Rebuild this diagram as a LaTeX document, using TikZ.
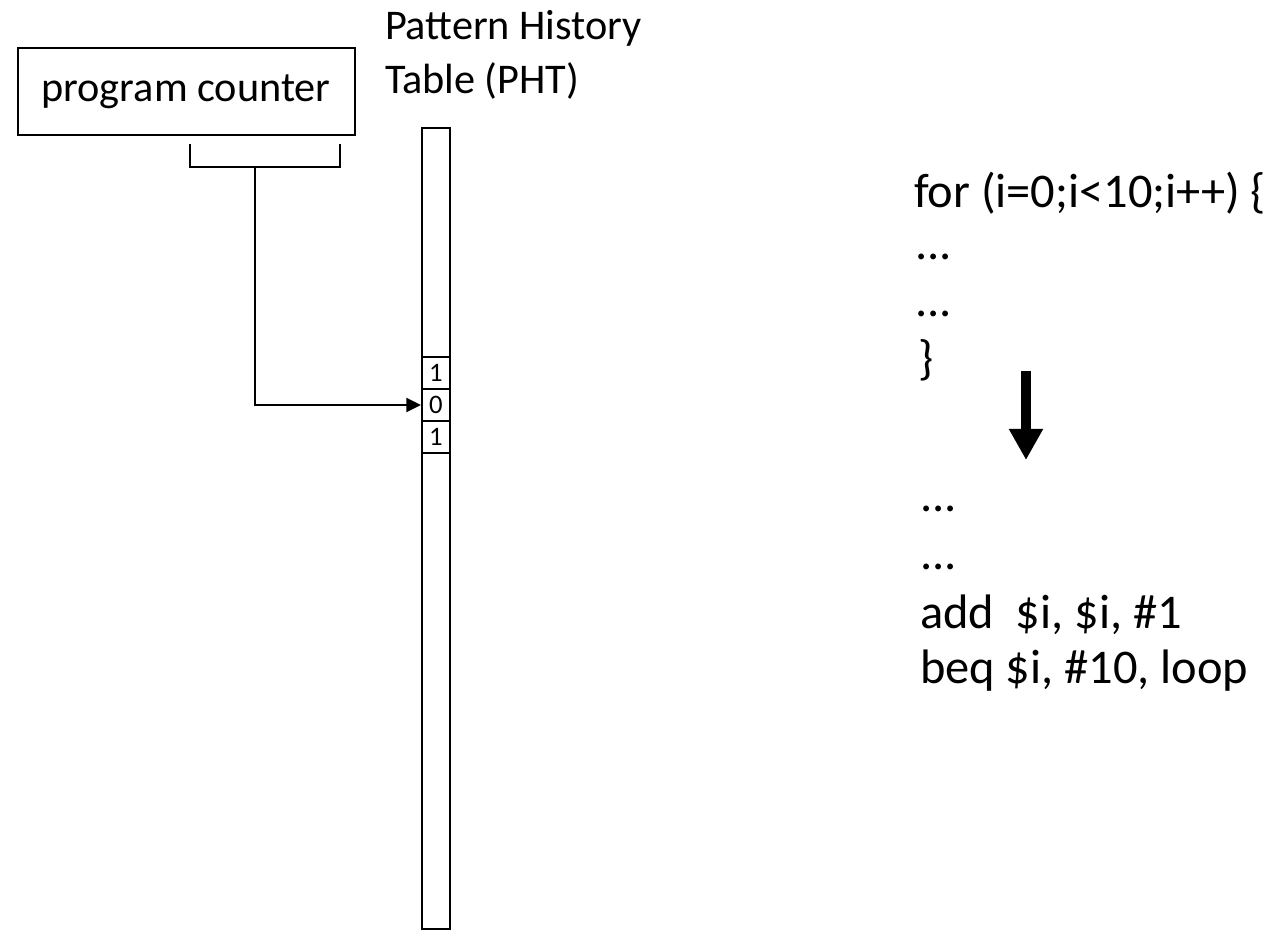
\documentclass[tikz,border=0pt]{standalone}
\usepackage{fontspec}
\setmainfont{Carlito}
\usetikzlibrary{arrows.meta}
\begin{document}
\begin{tikzpicture}[x=0.75pt,y=-0.75pt,
  line width=1.5pt,
  label/.style={font=\fontsize{31.7}{38}\selectfont, inner sep=0pt, anchor=base west},
  code/.style={font=\fontsize{36.3}{43}\selectfont, inner sep=0pt, anchor=base west},
  cell/.style={draw, minimum width=21pt, minimum height=24pt, inner sep=0pt,
               font=\fontsize{20}{23}\selectfont},
  pcbox/.style={draw, minimum width=252.75pt, minimum height=65.25pt, inner sep=0pt,
                font=\fontsize{31.7}{38}\selectfont}
]
\useasboundingbox (0,0) rectangle (1271,930);

% program counter register
\node[pcbox] (pc) at (186,91.5) {program counter};

% bit-field bracket under the register
\coordinate (bl) at (190,144);
\coordinate (br) at (340,144);
\coordinate (bm) at (255,167);
\draw (bl) -- (190,167) -- (340,167) -- (br);

% pattern history table column
\node[draw, minimum width=21pt, minimum height=600pt, inner sep=0pt] (pht) at (436,528.5) {};
\node[label] (phtA) at (384,40) {Pattern History};
\node[label] (phtB) at (384,94) {Table (PHT)};

% indexed entries
\node[cell] (e1) at (436,373) {1};
\node[cell] (e0) at (436,405) {0};
\node[cell] (e2) at (436,437) {1};

% index path from the bracket into the table
\draw[-{Triangle[length=11pt,width=10.5pt]}] (bm) |- (e0.west);

% source loop
\node[code] (l1) at (913,208) {for (i=0;i<10;i++) \{};
\node[code] (l2) at (914,260) {...};
\node[code] (l3) at (914,317) {...};
\node[code] (l4) at (917,375) {\}};

% compiled form
\coordinate (ca) at (1026,371);
\coordinate (cb) at (1026,460);
\draw[line width=7.5pt, -{Triangle[length=23.25pt,width=24pt]}] (ca) -- (cb);

\node[code] (m1) at (919,511) {...};
\node[code] (m2) at (919,569) {...};
\node[code] (m3) at (919,628) {add\ \ \$i, \$i, \#1};
\node[code] (m4) at (919,683) {beq \$i, \#10, loop};
\end{tikzpicture}
\end{document}
